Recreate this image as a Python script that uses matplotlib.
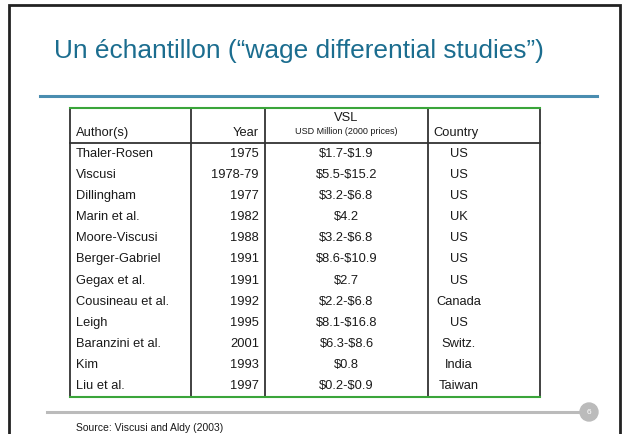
import matplotlib.pyplot as plt
from matplotlib.patches import Circle

plt.rcParams['font.family'] = ['Liberation Sans', 'DejaVu Sans']

title = "Un échantillon (“wage differential studies”)"
source = "Source: Viscusi and Aldy (2003)"
page_no = "6"

headers = ["Author(s)", "Year", "VSL", "Country"]
vsl_unit = "USD Million (2000 prices)"

authors = ["Thaler-Rosen", "Viscusi", "Dillingham", "Marin et al.", "Moore-Viscusi",
           "Berger-Gabriel", "Gegax et al.", "Cousineau et al.", "Leigh",
           "Baranzini et al.", "Kim", "Liu et al."]
years = ["1975", "1978-79", "1977", "1982", "1988", "1991", "1991", "1992",
         "1995", "2001", "1993", "1997"]
vsl = ["$1.7-$1.9", "$5.5-$15.2", "$3.2-$6.8", "$4.2", "$3.2-$6.8", "$8.6-$10.9",
       "$2.7", "$2.2-$6.8", "$8.1-$16.8", "$6.3-$8.6", "$0.8", "$0.2-$0.9"]
countries = ["US", "US", "US", "UK", "US", "US", "US", "Canada", "US",
             "Switz.", "India", "Taiwan"]

W, H = 622, 434
fig = plt.figure(figsize=(W / 100, H / 100), dpi=100)
ax = fig.add_axes([0, 0, 1, 1])
ax.set_xlim(0, W)
ax.set_ylim(H, 0)
ax.axis('off')


def txt(x, y, s, size=9.3, ha='left', **kw):
    ax.text(x, y, s, fontsize=size, ha=ha, va='center', parse_math=False, **kw)


# slide frame
ax.plot([9, 9, 620, 620], [H, 5, 5, H], color='#222222', lw=2, solid_joinstyle='miter')

# title + rule
txt(54, 51, title, size=18.9, color='#1b6d8f')
ax.plot([40, 597], [96, 96], color='#4a8db0', lw=2.2)

# table geometry
cols = [70, 191, 265, 428, 540]
top, head_bot, bottom = 108, 143, 397
n = len(authors)
rh = (bottom - head_bot) / n
grid = '#333333'
green = '#3aa53a'

for x in cols:
    ax.plot([x, x], [top, bottom], color=grid, lw=1.3)
ax.plot([cols[0], cols[-1]], [head_bot, head_bot], color=grid, lw=1.3)
ax.plot([cols[0], cols[-1]], [top, top], color=green, lw=1.5)
ax.plot([cols[0], cols[-1]], [bottom, bottom], color=green, lw=1.5)

tc = '#1a1a1a'
hy = 133
vc = (cols[2] + cols[3]) / 2
txt(cols[0] + 6, hy, headers[0], color=tc)
txt(cols[2] - 6, hy, headers[1], color=tc, ha='right')
txt(vc, 118, headers[2], color=tc, ha='center')
txt(vc, 132, vsl_unit, size=6.5, color=tc, ha='center')
txt(cols[3] + 5, hy, headers[3], color=tc)

for i in range(n):
    y = head_bot + rh * (i + 0.5)
    txt(cols[0] + 6, y, authors[i], color=tc)
    txt(cols[2] - 6, y, years[i], color=tc, ha='right')
    txt(vc, y, vsl[i], color=tc, ha='center')
    txt(459, y, countries[i], color=tc, ha='center')

# footer
ax.plot([47, 585], [412, 412], color='#bbbbbb', lw=2.2)
ax.add_patch(Circle((589, 412), 9, color='#bbbbbb', zorder=3))
txt(589, 412, page_no, size=6, color='white', ha='center', zorder=4)
txt(76, 428, source, size=7.5, color=tc)

fig.savefig('out.png', dpi=100)
